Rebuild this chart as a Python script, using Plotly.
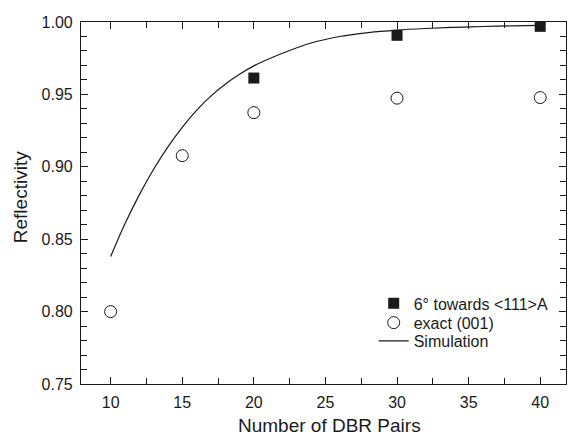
import plotly.graph_objects as go

# Data
pairs_tilted = [20, 30, 40]
refl_tilted = [0.9613, 0.9908, 0.9970]

pairs_exact = [10, 15, 20, 30, 40]
refl_exact = [0.800, 0.9077, 0.9374, 0.9474, 0.9478]

sim_pairs = [10, 11, 12, 13, 14, 15, 16, 17, 18, 19, 20, 22, 24, 26, 28, 30, 32, 34, 36, 38, 40]
sim_refl = [0.838, 0.8606, 0.8806, 0.8983, 0.9138, 0.9273, 0.9390, 0.9488, 0.9570, 0.9639, 0.9697,
            0.9784, 0.9855, 0.9900, 0.9927, 0.9944, 0.9955, 0.9963, 0.9969, 0.9973, 0.9977]

x_ticks = [10, 15, 20, 25, 30, 35, 40]
y_ticks = [0.75, 0.80, 0.85, 0.90, 0.95, 1.00]

x_title = "Number of DBR Pairs"
y_title = "Reflectivity"

FONT = "Liberation Sans, Arial, Helvetica, sans-serif"
INK = "#1a1a1a"

fig = go.Figure()
fig.add_trace(go.Scatter(
    x=pairs_tilted, y=refl_tilted, mode="markers", name="6° towards &lt;111&gt;A",
    marker=dict(symbol="square", size=11, color=INK, line=dict(width=0)),
    legend="legend",
))
fig.add_trace(go.Scatter(
    x=pairs_exact, y=refl_exact, mode="markers", name="exact (001)",
    marker=dict(symbol="circle-open", size=12, color=INK, line=dict(width=1, color=INK)),
    legend="legend2",
))
fig.add_trace(go.Scatter(
    x=sim_pairs, y=sim_refl, mode="lines", name="Simulation",
    line=dict(color=INK, width=1.2, shape="spline", smoothing=1.0),
    legend="legend3",
))

axis_common = dict(
    showline=True, linecolor=INK, linewidth=1.2, mirror="ticks",
    ticks="inside", ticklen=7, tickwidth=1, tickcolor=INK,
    showgrid=False, zeroline=False, automargin=False,
    tickfont=dict(family=FONT, size=16, color=INK),
)

leg_common = dict(
    xanchor="left", yanchor="middle", bgcolor="rgba(0,0,0,0)", borderwidth=0,
    font=dict(family=FONT, size=16, color=INK),
)

fig.update_layout(
    width=574, height=437,
    margin=dict(l=81, r=8, t=22, b=53),
    paper_bgcolor="white", plot_bgcolor="white",
    font=dict(family=FONT, color=INK),
    xaxis=dict(
        range=[7.93, 41.8], tickvals=x_ticks, ticklabelstandoff=4,
        minor=dict(dtick=2.5, tick0=0, ticks="inside", ticklen=6, tickcolor=INK, tickwidth=1),
        **axis_common,
    ),
    yaxis=dict(
        range=[0.75, 1.0], tickvals=y_ticks, tickformat=".2f", ticklabelstandoff=4,
        minor=dict(dtick=0.01, tick0=0, ticks="inside", ticklen=6, tickcolor=INK, tickwidth=1),
        **axis_common,
    ),
    legend=dict(x=0.6035, y=0.2227, **leg_common),
    legend2=dict(x=0.6035, y=0.1692, **leg_common),
    legend3=dict(x=0.6035, y=0.1187, **leg_common),
    showlegend=True,
    annotations=[
        dict(text=x_title, xref="paper", yref="paper", x=0.5134, y=-0.1145,
             xanchor="center", yanchor="middle", showarrow=False,
             font=dict(family=FONT, size=19, color=INK)),
        dict(text=y_title, xref="paper", yref="paper", x=-0.1258, y=0.516,
             xanchor="center", yanchor="middle", showarrow=False, textangle=-90,
             font=dict(family=FONT, size=19, color=INK)),
    ],
)

fig.write_html("out.html", config={"displayModeBar": False},
               post_script="document.body.style.margin='0px';")
